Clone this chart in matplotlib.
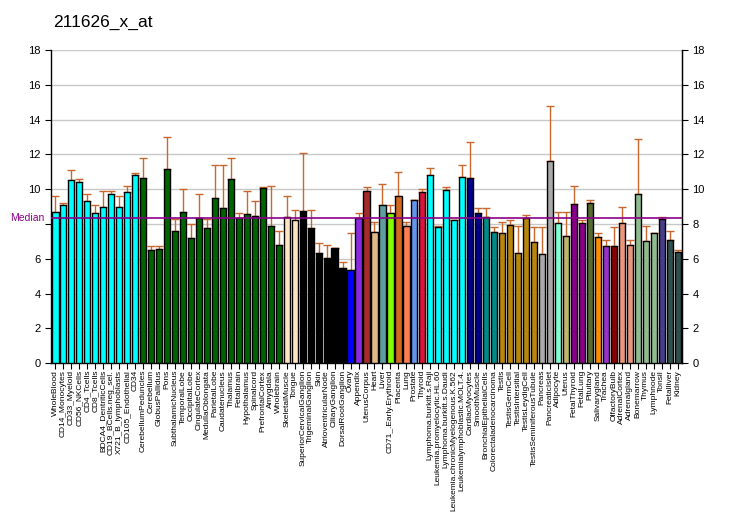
import numpy as np
import matplotlib
matplotlib.use('Agg')
import matplotlib.pyplot as plt

# 样本名称
labels = ['WholeBlood', 'CD14_Monocytes', 'CD33_Myeloid', 'CD56_NKCells', 'CD4_Tcells', 'CD8_Tcells',
          'BDCA4_DentriticCells', 'CD19_BCells.neg_sel.', 'X721_B_lymphoblasts', 'CD105_Endothelial', 'CD34',
          'CerebellumPeduncles', 'Cerebellum', 'GlobusPallidus', 'Pons', 'SubthalamicNucleus', 'TemporalLobe',
          'OccipitalLobe', 'CingulateCortex', 'MedullaOblongata', 'ParietalLobe', 'Caudatenucleus', 'Thalamus',
          'Fetalbrain', 'Hypothalamus', 'Spinalcord', 'PrefrontalCortex', 'Amygdala', 'Wholebrain',
          'SkeletalMuscle', 'Tongue', 'SuperiorCervicalGanglion', 'TrigeminalGanglion', 'Skin',
          'AtrioventricularNode', 'CiliaryGanglion', 'DorsalRootGanglion', 'Ovary', 'Appendix', 'UterusCorpus',
          'Heart', 'Liver', 'CD71_.Early.Erythroid', 'Placenta', 'Lung', 'Prostate', 'Thyroid',
          'Lymphoma.burkitt.s.Raji', 'Leukemia.promyelocytic.HL.60', 'Lymphoma.burkitt.s.Daudi',
          'Leukemia.chronicMyelogenous.K.562', 'Leukemialymphoblastic.MOLT.4.', 'CardiacMyocytes',
          'SmoothMuscle', 'BronchialEpithelialCells', 'Colorectaladenocarcinoma', 'Testis', 'TestisGermCell',
          'TestisIntersitial', 'TestisLeydigCell', 'TestisSeminiferousTubule', 'Pancreas', 'PancreaticIslet',
          'Adipocyte', 'Uterus', 'FetalThyroid', 'FetalLung', 'Pituitary', 'Salivarygland', 'Trachea',
          'OlfactoryBulb', 'AdrenalCortex', 'Adrenalgland', 'Bonemarrow', 'Thymus', 'Lymphnode', 'Tonsil',
          'Fetalliver', 'Kidney']

# 表达值
values = [8.69, 9.07, 10.51, 10.39, 9.32, 8.61, 8.96, 9.70, 8.96, 9.82, 10.79,
          10.62, 6.49, 6.55, 11.14, 7.60, 8.67, 7.18, 8.33, 7.75, 9.47, 8.90, 10.56,
          8.33, 8.56, 8.44, 10.05, 7.87, 6.78,
          8.38, 8.21, 8.73, 7.75, 6.32, 6.03, 6.60, 5.45, 5.34, 8.33, 9.88,
          7.52, 9.07, 8.61, 9.59, 7.87, 9.36, 9.82,
          10.79, 7.81, 9.93, 8.21, 10.68, 10.62,
          8.61, 8.38, 7.52, 7.46, 7.92, 6.32, 8.33, 6.95, 6.28, 11.63,
          8.06, 7.31, 9.16, 8.06, 9.21, 7.26, 6.74, 6.74, 8.06, 6.79,
          9.73, 7.02, 7.49, 8.29, 7.08, 6.39]

# 误差棒上端
err_top = [9.59, 9.19, 11.08, 10.56, 9.70, 9.07, 9.88, 9.88, 9.59, 10.16, 10.91,
           11.77, 6.72, 6.72, 12.98, 8.27, 9.99, 7.98, 9.70, 8.27, 11.37, 11.37, 11.77,
           8.61, 9.88, 9.30, 10.11, 10.16, 7.58,
           9.59, 8.78, 12.06, 8.78, 6.89, 6.78, 6.60, 5.80, 7.46, 8.61, 10.11,
           8.10, 10.28, 9.07, 10.97, 8.10, 9.36, 9.99,
           11.20, 7.87, 10.11, 8.21, 11.37, 12.69,
           8.90, 8.90, 7.81, 8.10, 8.21, 7.87, 8.50, 7.81, 7.83, 14.80,
           8.69, 8.69, 10.19, 8.23, 9.39, 7.49, 7.08, 7.83, 8.98, 7.08,
           12.90, 7.89, 7.49, 8.41, 7.60, 6.51]

# 颜色
colors = (['#00FFFF'] * 11 + ['#006400'] * 18 + ['#FFE4C4'] * 2 + ['#000000'] * 6 +
          ['#0000FF', '#8A2BE2', '#A52A2A', '#DEB887', '#5F9EA0', '#7FFF00', '#D2691E', '#FF7F50',
           '#6495ED', '#DC143C'] + ['#00FFFF'] * 5 + ['#00008B'] * 2 + ['#008B8B'] * 2 +
          ['#B8860B'] * 5 + ['#A9A9A9'] * 2 + ['#7FFFD4', '#BDB76B'] + ['#8B008B'] * 2 +
          ['#556B2F', '#FF8C00', '#9932CC', '#8B0000'] + ['#E9967A'] * 2 + ['#8FBC8F'] * 3 +
          ['#483D8B'] + ['#2F4F4F'] * 2)

median = 8.34

plt.rcParams['font.family'] = ['Liberation Sans', 'DejaVu Sans']

fig = plt.figure(figsize=(7.32, 5.30), dpi=100)
ax = fig.add_axes([0.0697, 0.315, 0.862, 0.5905])

x = np.arange(len(values))
ax.bar(x, values, width=0.78, color=colors, edgecolor='black', linewidth=1.0, zorder=3)
v = np.array(values)
up = np.array(err_top) - v
ax.errorbar(x, v, yerr=[np.zeros_like(up), up], fmt='none', ecolor='#C8682E',
            elinewidth=1.0, capsize=3, capthick=1.0, zorder=2)

ax.axhline(median, color='#8B008B', linewidth=1.2, zorder=4)
ax.text(-0.065, median, 'Median', color='#8B008B', fontsize=7.5, va='center', ha='left',
        transform=ax.get_yaxis_transform())

ax.set_xlim(-0.55, len(values) - 0.45)
ax.set_ylim(0, 18)
yt = list(range(0, 19, 2))
ax.set_yticks(yt)
# 左边 8 的位置被 Median 占了
ax.set_yticklabels(['' if t == 8 else str(t) for t in yt])
ax.yaxis.grid(True, color='#C8C8C8', linewidth=1.0, zorder=0)
ax.set_axisbelow(True)
ax.tick_params(axis='y', labelsize=8, right=True, length=4)

# 右边的刻度标签全部保留
ax2 = ax.twinx()
ax2.set_ylim(0, 18)
ax2.set_yticks(yt)
ax2.tick_params(axis='y', labelsize=8, length=4)
for s in ['top', 'left', 'bottom']:
    ax2.spines[s].set_visible(False)

ax.set_xticks(x)
ax.set_xticklabels(labels, rotation=90, fontsize=6)
ax.tick_params(axis='x', length=4, pad=1)

ax.spines['top'].set_visible(False)
for s in ['left', 'right', 'bottom']:
    ax.spines[s].set_linewidth(1.0)

fig.text(0.0725, 0.958, '211626_x_at', fontsize=12.5, ha='left', va='center')

plt.savefig('out.png', dpi=100)
